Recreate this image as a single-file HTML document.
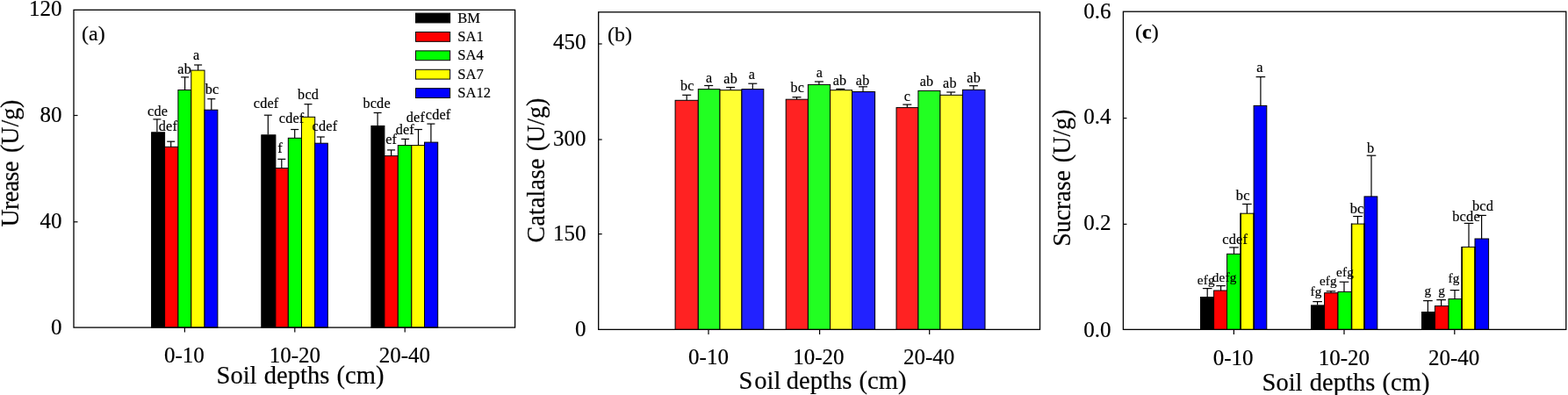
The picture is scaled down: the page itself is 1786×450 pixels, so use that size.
<!DOCTYPE html>
<html lang="en">
<head>
<meta charset="utf-8">
<title>Soil enzyme activities</title>
<style>
html, body { margin: 0; padding: 0; background: #ffffff; }
body { width: 1786px; height: 450px; overflow: hidden; }
svg { display: block; font-family: "Liberation Serif", serif; }
svg text { fill: #000; stroke: #000; stroke-width: 0.18px; }
</style>
</head>
<body>
<svg width="1786" height="450" viewBox="0 0 1786 450">
<rect x="0" y="0" width="1786" height="450" fill="#ffffff"/>
<line x1="178.90" y1="135.90" x2="178.90" y2="150.30" stroke="#000" stroke-width="1.2"/>
<line x1="174.40" y1="135.90" x2="183.40" y2="135.90" stroke="#000" stroke-width="1.2"/>
<rect x="172.60" y="150.80" width="15.00" height="222.30" fill="#000000" stroke="#000" stroke-width="1"/>
<line x1="194.70" y1="161.20" x2="194.70" y2="167.30" stroke="#000" stroke-width="1.2"/>
<line x1="190.20" y1="161.20" x2="199.20" y2="161.20" stroke="#000" stroke-width="1.2"/>
<rect x="187.60" y="167.30" width="15.30" height="205.80" fill="#ff0000" stroke="#000" stroke-width="1"/>
<line x1="210.60" y1="87.90" x2="210.60" y2="102.50" stroke="#000" stroke-width="1.2"/>
<line x1="206.10" y1="87.90" x2="215.10" y2="87.90" stroke="#000" stroke-width="1.2"/>
<rect x="202.90" y="102.50" width="14.90" height="270.60" fill="#00ff00" stroke="#000" stroke-width="1"/>
<line x1="225.60" y1="74.00" x2="225.60" y2="80.10" stroke="#000" stroke-width="1.2"/>
<line x1="221.10" y1="74.00" x2="230.10" y2="74.00" stroke="#000" stroke-width="1.2"/>
<rect x="217.80" y="80.10" width="15.20" height="293.00" fill="#ffff00" stroke="#000" stroke-width="1"/>
<line x1="240.80" y1="112.70" x2="240.80" y2="125.20" stroke="#000" stroke-width="1.2"/>
<line x1="236.30" y1="112.70" x2="245.30" y2="112.70" stroke="#000" stroke-width="1.2"/>
<rect x="233.00" y="125.20" width="14.90" height="247.90" fill="#0000ff" stroke="#000" stroke-width="1"/>
<line x1="305.30" y1="131.20" x2="305.30" y2="153.30" stroke="#000" stroke-width="1.2"/>
<line x1="300.80" y1="131.20" x2="309.80" y2="131.20" stroke="#000" stroke-width="1.2"/>
<rect x="297.80" y="153.80" width="16.10" height="219.30" fill="#000000" stroke="#000" stroke-width="1"/>
<line x1="320.80" y1="181.30" x2="320.80" y2="191.50" stroke="#000" stroke-width="1.2"/>
<line x1="316.30" y1="181.30" x2="325.30" y2="181.30" stroke="#000" stroke-width="1.2"/>
<rect x="313.90" y="191.50" width="14.40" height="181.60" fill="#ff0000" stroke="#000" stroke-width="1"/>
<line x1="335.70" y1="147.50" x2="335.70" y2="157.30" stroke="#000" stroke-width="1.2"/>
<line x1="331.20" y1="147.50" x2="340.20" y2="147.50" stroke="#000" stroke-width="1.2"/>
<rect x="328.30" y="157.30" width="15.20" height="215.80" fill="#00ff00" stroke="#000" stroke-width="1"/>
<line x1="351.00" y1="118.70" x2="351.00" y2="133.30" stroke="#000" stroke-width="1.2"/>
<line x1="346.50" y1="118.70" x2="355.50" y2="118.70" stroke="#000" stroke-width="1.2"/>
<rect x="343.50" y="133.30" width="15.20" height="239.80" fill="#ffff00" stroke="#000" stroke-width="1"/>
<line x1="365.30" y1="156.00" x2="365.30" y2="163.20" stroke="#000" stroke-width="1.2"/>
<line x1="360.80" y1="156.00" x2="369.80" y2="156.00" stroke="#000" stroke-width="1.2"/>
<rect x="358.70" y="163.20" width="14.60" height="209.90" fill="#0000ff" stroke="#000" stroke-width="1"/>
<line x1="430.10" y1="128.50" x2="430.10" y2="142.90" stroke="#000" stroke-width="1.2"/>
<line x1="425.60" y1="128.50" x2="434.60" y2="128.50" stroke="#000" stroke-width="1.2"/>
<rect x="422.90" y="143.40" width="15.00" height="229.70" fill="#000000" stroke="#000" stroke-width="1"/>
<line x1="445.60" y1="170.90" x2="445.60" y2="177.60" stroke="#000" stroke-width="1.2"/>
<line x1="441.10" y1="170.90" x2="450.10" y2="170.90" stroke="#000" stroke-width="1.2"/>
<rect x="437.90" y="177.60" width="15.40" height="195.50" fill="#ff0000" stroke="#000" stroke-width="1"/>
<line x1="461.60" y1="158.40" x2="461.60" y2="165.60" stroke="#000" stroke-width="1.2"/>
<line x1="457.10" y1="158.40" x2="466.10" y2="158.40" stroke="#000" stroke-width="1.2"/>
<rect x="453.30" y="165.60" width="15.50" height="207.50" fill="#00ff00" stroke="#000" stroke-width="1"/>
<line x1="476.50" y1="147.50" x2="476.50" y2="165.60" stroke="#000" stroke-width="1.2"/>
<line x1="472.00" y1="147.50" x2="481.00" y2="147.50" stroke="#000" stroke-width="1.2"/>
<rect x="468.80" y="165.60" width="14.70" height="207.50" fill="#ffff00" stroke="#000" stroke-width="1"/>
<line x1="490.90" y1="141.10" x2="490.90" y2="162.10" stroke="#000" stroke-width="1.2"/>
<line x1="486.40" y1="141.10" x2="495.40" y2="141.10" stroke="#000" stroke-width="1.2"/>
<rect x="483.50" y="162.10" width="15.20" height="211.00" fill="#0000ff" stroke="#000" stroke-width="1"/>
<text x="179.60" y="131.80" font-size="16.2" text-anchor="middle" letter-spacing="0.2">cde</text>
<text x="191.40" y="148.70" font-size="16.2" text-anchor="middle" letter-spacing="0.2">def</text>
<text x="210.10" y="83.50" font-size="16.2" text-anchor="middle" letter-spacing="0.2">ab</text>
<text x="223.70" y="67.50" font-size="16.2" text-anchor="middle" letter-spacing="0.2">a</text>
<text x="241.60" y="106.50" font-size="16.2" text-anchor="middle" letter-spacing="0.2">bc</text>
<text x="303.10" y="123.00" font-size="16.2" text-anchor="middle" letter-spacing="0.2">cdef</text>
<text x="319.10" y="174.20" font-size="16.2" text-anchor="middle" letter-spacing="0.2">f</text>
<text x="332.10" y="140.30" font-size="16.2" text-anchor="middle" letter-spacing="0.2">cdef</text>
<text x="351.10" y="112.80" font-size="16.2" text-anchor="middle" letter-spacing="0.2">bcd</text>
<text x="369.90" y="149.40" font-size="16.2" text-anchor="middle" letter-spacing="0.2">cdef</text>
<text x="429.10" y="123.00" font-size="16.2" text-anchor="middle" letter-spacing="0.2">bcde</text>
<text x="445.70" y="163.80" font-size="16.2" text-anchor="middle" letter-spacing="0.2">ef</text>
<text x="461.30" y="153.20" font-size="16.2" text-anchor="middle" letter-spacing="0.2">def</text>
<text x="473.40" y="139.20" font-size="16.2" text-anchor="middle" letter-spacing="0.2">def</text>
<text x="499.10" y="135.50" font-size="16.2" text-anchor="middle" letter-spacing="0.2">cdef</text>
<rect x="84.00" y="11.30" width="502.60" height="361.80" fill="none" stroke="#000" stroke-width="1.3"/>
<text x="70.50" y="17.50" font-size="25" text-anchor="end" >120</text>
<line x1="84.00" y1="131.50" x2="88.50" y2="131.50" stroke="#000" stroke-width="1.2"/>
<text x="70.50" y="139.10" font-size="25" text-anchor="end" >80</text>
<line x1="84.00" y1="252.80" x2="88.50" y2="252.80" stroke="#000" stroke-width="1.2"/>
<text x="70.50" y="260.00" font-size="25" text-anchor="end" >40</text>
<text x="70.50" y="380.70" font-size="25" text-anchor="end" >0</text>
<line x1="210.40" y1="373.10" x2="210.40" y2="378.60" stroke="#000" stroke-width="1.2"/>
<text x="209.90" y="412.60" font-size="25" text-anchor="middle" >0-10</text>
<line x1="335.80" y1="373.10" x2="335.80" y2="378.60" stroke="#000" stroke-width="1.2"/>
<text x="335.80" y="412.60" font-size="25" text-anchor="middle" >10-20</text>
<line x1="461.20" y1="373.10" x2="461.20" y2="378.60" stroke="#000" stroke-width="1.2"/>
<text x="460.80" y="412.60" font-size="25" text-anchor="middle" >20-40</text>
<text x="342.00" y="437.00" font-size="28.5" text-anchor="middle" word-spacing="1.2">Soil depths (cm)</text>
<text transform="translate(20.50,258.60) rotate(-90) scale(0.94,1)" font-size="29.7" text-anchor="start" letter-spacing="-0.55">Urease</text>
<text transform="translate(20.50,113.60) rotate(-90) scale(0.94,1)" font-size="29.7" text-anchor="end" letter-spacing="0">(U/g)</text>

<text x="93.00" y="46.20" font-size="24" text-anchor="start" >(a)</text>
<rect x="473.50" y="15.10" width="39.10" height="10.80" fill="#000000" stroke="#000" stroke-width="1"/>
<text x="521.30" y="25.60" font-size="16.5" text-anchor="start" >BM</text>
<rect x="473.50" y="36.50" width="39.10" height="10.80" fill="#ff0000" stroke="#000" stroke-width="1"/>
<text x="521.30" y="47.00" font-size="16.5" text-anchor="start" >SA1</text>
<rect x="473.50" y="57.90" width="39.10" height="10.80" fill="#00ff00" stroke="#000" stroke-width="1"/>
<text x="521.30" y="68.40" font-size="16.5" text-anchor="start" >SA4</text>
<rect x="473.50" y="79.30" width="39.10" height="10.80" fill="#ffff00" stroke="#000" stroke-width="1"/>
<text x="521.30" y="89.80" font-size="16.5" text-anchor="start" >SA7</text>
<rect x="473.50" y="100.70" width="39.10" height="10.80" fill="#0000ff" stroke="#000" stroke-width="1"/>
<text x="521.30" y="111.20" font-size="16.5" text-anchor="start" >SA12</text>
<line x1="782.20" y1="108.30" x2="782.20" y2="114.30" stroke="#000" stroke-width="1.2"/>
<line x1="777.20" y1="108.30" x2="787.20" y2="108.30" stroke="#000" stroke-width="1.2"/>
<rect x="769.10" y="114.30" width="26.20" height="261.10" fill="#ff2222" stroke="#000" stroke-width="1"/>
<line x1="807.20" y1="97.50" x2="807.20" y2="101.60" stroke="#000" stroke-width="1.2"/>
<line x1="802.20" y1="97.50" x2="812.20" y2="97.50" stroke="#000" stroke-width="1.2"/>
<rect x="795.30" y="101.60" width="24.70" height="273.80" fill="#22ff22" stroke="#000" stroke-width="1"/>
<line x1="832.10" y1="99.50" x2="832.10" y2="102.70" stroke="#000" stroke-width="1.2"/>
<line x1="827.10" y1="99.50" x2="837.10" y2="99.50" stroke="#000" stroke-width="1.2"/>
<rect x="820.00" y="102.70" width="24.90" height="272.70" fill="#ffff33" stroke="#000" stroke-width="1"/>
<line x1="857.30" y1="95.20" x2="857.30" y2="101.60" stroke="#000" stroke-width="1.2"/>
<line x1="852.30" y1="95.20" x2="862.30" y2="95.20" stroke="#000" stroke-width="1.2"/>
<rect x="844.90" y="101.60" width="24.90" height="273.80" fill="#2222ff" stroke="#000" stroke-width="1"/>
<line x1="907.50" y1="110.70" x2="907.50" y2="113.20" stroke="#000" stroke-width="1.2"/>
<line x1="902.50" y1="110.70" x2="912.50" y2="110.70" stroke="#000" stroke-width="1.2"/>
<rect x="895.20" y="113.20" width="25.20" height="262.20" fill="#ff2222" stroke="#000" stroke-width="1"/>
<line x1="932.90" y1="93.00" x2="932.90" y2="96.40" stroke="#000" stroke-width="1.2"/>
<line x1="927.90" y1="93.00" x2="937.90" y2="93.00" stroke="#000" stroke-width="1.2"/>
<rect x="920.40" y="96.40" width="25.20" height="279.00" fill="#22ff22" stroke="#000" stroke-width="1"/>
<line x1="957.30" y1="101.40" x2="957.30" y2="102.70" stroke="#000" stroke-width="1.2"/>
<line x1="952.30" y1="101.40" x2="962.30" y2="101.40" stroke="#000" stroke-width="1.2"/>
<rect x="945.60" y="102.70" width="24.90" height="272.70" fill="#ffff33" stroke="#000" stroke-width="1"/>
<line x1="983.00" y1="98.80" x2="983.00" y2="104.50" stroke="#000" stroke-width="1.2"/>
<line x1="978.00" y1="98.80" x2="988.00" y2="98.80" stroke="#000" stroke-width="1.2"/>
<rect x="970.50" y="104.50" width="26.10" height="270.90" fill="#2222ff" stroke="#000" stroke-width="1"/>
<line x1="1033.30" y1="119.10" x2="1033.30" y2="122.60" stroke="#000" stroke-width="1.2"/>
<line x1="1028.30" y1="119.10" x2="1038.30" y2="119.10" stroke="#000" stroke-width="1.2"/>
<rect x="1021.00" y="122.60" width="24.90" height="252.80" fill="#ff2222" stroke="#000" stroke-width="1"/>
<rect x="1045.90" y="103.40" width="25.00" height="272.00" fill="#22ff22" stroke="#000" stroke-width="1"/>
<line x1="1083.20" y1="105.00" x2="1083.20" y2="108.30" stroke="#000" stroke-width="1.2"/>
<line x1="1078.20" y1="105.00" x2="1088.20" y2="105.00" stroke="#000" stroke-width="1.2"/>
<rect x="1070.90" y="108.30" width="25.50" height="267.10" fill="#ffff33" stroke="#000" stroke-width="1"/>
<line x1="1108.90" y1="97.70" x2="1108.90" y2="102.30" stroke="#000" stroke-width="1.2"/>
<line x1="1103.90" y1="97.70" x2="1113.90" y2="97.70" stroke="#000" stroke-width="1.2"/>
<rect x="1096.40" y="102.30" width="25.60" height="273.10" fill="#2222ff" stroke="#000" stroke-width="1"/>
<text x="782.80" y="103.00" font-size="16.1" text-anchor="middle" letter-spacing="0.2">bc</text>
<text x="807.60" y="93.60" font-size="16.1" text-anchor="middle" letter-spacing="0.2">a</text>
<text x="832.10" y="94.90" font-size="16.1" text-anchor="middle" letter-spacing="0.2">ab</text>
<text x="856.30" y="89.90" font-size="16.1" text-anchor="middle" letter-spacing="0.2">a</text>
<text x="908.40" y="104.50" font-size="16.1" text-anchor="middle" letter-spacing="0.2">bc</text>
<text x="933.30" y="87.80" font-size="16.1" text-anchor="middle" letter-spacing="0.2">a</text>
<text x="956.50" y="97.30" font-size="16.1" text-anchor="middle" letter-spacing="0.2">ab</text>
<text x="982.60" y="97.30" font-size="16.1" text-anchor="middle" letter-spacing="0.2">ab</text>
<text x="1033.40" y="114.60" font-size="16.1" text-anchor="middle" letter-spacing="0.2">c</text>
<text x="1055.50" y="98.00" font-size="16.1" text-anchor="middle" letter-spacing="0.2">ab</text>
<text x="1081.90" y="100.40" font-size="16.1" text-anchor="middle" letter-spacing="0.2">ab</text>
<text x="1109.10" y="93.50" font-size="16.1" text-anchor="middle" letter-spacing="0.2">ab</text>
<rect x="681.70" y="13.80" width="502.80" height="361.60" fill="none" stroke="#000" stroke-width="1.3"/>
<line x1="681.70" y1="50.00" x2="685.70" y2="50.00" stroke="#000" stroke-width="1.2"/>
<text x="667.50" y="56.40" font-size="25" text-anchor="end" >450</text>
<line x1="681.70" y1="159.00" x2="685.70" y2="159.00" stroke="#000" stroke-width="1.2"/>
<text x="667.50" y="165.50" font-size="25" text-anchor="end" >300</text>
<line x1="681.70" y1="266.60" x2="685.70" y2="266.60" stroke="#000" stroke-width="1.2"/>
<text x="667.50" y="274.20" font-size="25" text-anchor="end" >150</text>
<text x="667.50" y="382.60" font-size="25" text-anchor="end" >0</text>
<line x1="807.00" y1="375.40" x2="807.00" y2="380.90" stroke="#000" stroke-width="1.2"/>
<text x="807.00" y="414.80" font-size="25" text-anchor="middle" >0-10</text>
<line x1="933.60" y1="375.40" x2="933.60" y2="380.90" stroke="#000" stroke-width="1.2"/>
<text x="932.40" y="414.80" font-size="25" text-anchor="middle" >10-20</text>
<line x1="1058.70" y1="375.40" x2="1058.70" y2="380.90" stroke="#000" stroke-width="1.2"/>
<text x="1058.20" y="414.80" font-size="25" text-anchor="middle" >20-40</text>
<text x="937.00" y="442.60" font-size="28.5" text-anchor="middle" word-spacing="1.2">S<tspan dx="1.8">oil</tspan><tspan dx="-1.8"> depths (cm)</tspan></text>
<text transform="translate(620.20,276.40) rotate(-90) scale(0.94,1)" font-size="29.7" text-anchor="start" letter-spacing="0.2">Catalase</text>
<text transform="translate(620.20,111.70) rotate(-90) scale(0.94,1)" font-size="29.7" text-anchor="end" letter-spacing="0">(U/g)</text>

<text x="692.00" y="47.40" font-size="24" text-anchor="start" >(b)</text>
<line x1="1375.20" y1="328.60" x2="1375.20" y2="338.00" stroke="#000" stroke-width="1.2"/>
<line x1="1369.90" y1="328.60" x2="1380.50" y2="328.60" stroke="#000" stroke-width="1.2"/>
<rect x="1367.50" y="338.50" width="15.10" height="36.90" fill="#000000" stroke="#000" stroke-width="1"/>
<line x1="1390.60" y1="325.60" x2="1390.60" y2="331.00" stroke="#000" stroke-width="1.2"/>
<line x1="1385.30" y1="325.60" x2="1395.90" y2="325.60" stroke="#000" stroke-width="1.2"/>
<rect x="1382.60" y="331.00" width="15.00" height="44.40" fill="#ff0000" stroke="#000" stroke-width="1"/>
<line x1="1405.50" y1="281.90" x2="1405.50" y2="289.30" stroke="#000" stroke-width="1.2"/>
<line x1="1400.20" y1="281.90" x2="1410.80" y2="281.90" stroke="#000" stroke-width="1.2"/>
<rect x="1397.60" y="289.30" width="15.40" height="86.10" fill="#00ff00" stroke="#000" stroke-width="1"/>
<line x1="1420.40" y1="232.50" x2="1420.40" y2="243.20" stroke="#000" stroke-width="1.2"/>
<line x1="1415.10" y1="232.50" x2="1425.70" y2="232.50" stroke="#000" stroke-width="1.2"/>
<rect x="1413.00" y="243.20" width="15.10" height="132.20" fill="#ffff00" stroke="#000" stroke-width="1"/>
<line x1="1435.90" y1="87.60" x2="1435.90" y2="120.40" stroke="#000" stroke-width="1.2"/>
<line x1="1430.60" y1="87.60" x2="1441.20" y2="87.60" stroke="#000" stroke-width="1.2"/>
<rect x="1428.10" y="120.40" width="14.70" height="255.00" fill="#0000ff" stroke="#000" stroke-width="1"/>
<line x1="1500.60" y1="343.60" x2="1500.60" y2="347.40" stroke="#000" stroke-width="1.2"/>
<line x1="1495.30" y1="343.60" x2="1505.90" y2="343.60" stroke="#000" stroke-width="1.2"/>
<rect x="1493.50" y="347.90" width="15.10" height="27.50" fill="#000000" stroke="#000" stroke-width="1"/>
<line x1="1516.00" y1="331.80" x2="1516.00" y2="333.70" stroke="#000" stroke-width="1.2"/>
<line x1="1510.70" y1="331.80" x2="1521.30" y2="331.80" stroke="#000" stroke-width="1.2"/>
<rect x="1508.60" y="333.70" width="15.40" height="41.70" fill="#ff0000" stroke="#000" stroke-width="1"/>
<line x1="1531.00" y1="321.20" x2="1531.00" y2="332.40" stroke="#000" stroke-width="1.2"/>
<line x1="1525.70" y1="321.20" x2="1536.30" y2="321.20" stroke="#000" stroke-width="1.2"/>
<rect x="1524.00" y="332.40" width="15.40" height="43.00" fill="#00ff00" stroke="#000" stroke-width="1"/>
<line x1="1546.50" y1="246.50" x2="1546.50" y2="255.10" stroke="#000" stroke-width="1.2"/>
<line x1="1541.20" y1="246.50" x2="1551.80" y2="246.50" stroke="#000" stroke-width="1.2"/>
<rect x="1539.40" y="255.10" width="14.60" height="120.30" fill="#ffff00" stroke="#000" stroke-width="1"/>
<line x1="1562.00" y1="177.20" x2="1562.00" y2="223.90" stroke="#000" stroke-width="1.2"/>
<line x1="1556.70" y1="177.20" x2="1567.30" y2="177.20" stroke="#000" stroke-width="1.2"/>
<rect x="1554.00" y="223.90" width="14.80" height="151.50" fill="#0000ff" stroke="#000" stroke-width="1"/>
<line x1="1626.40" y1="342.60" x2="1626.40" y2="355.00" stroke="#000" stroke-width="1.2"/>
<line x1="1621.10" y1="342.60" x2="1631.70" y2="342.60" stroke="#000" stroke-width="1.2"/>
<rect x="1619.50" y="355.50" width="14.90" height="19.90" fill="#000000" stroke="#000" stroke-width="1"/>
<line x1="1641.60" y1="341.60" x2="1641.60" y2="348.60" stroke="#000" stroke-width="1.2"/>
<line x1="1636.30" y1="341.60" x2="1646.90" y2="341.60" stroke="#000" stroke-width="1.2"/>
<rect x="1634.40" y="348.60" width="15.60" height="26.80" fill="#ff0000" stroke="#000" stroke-width="1"/>
<line x1="1657.00" y1="330.60" x2="1657.00" y2="340.60" stroke="#000" stroke-width="1.2"/>
<line x1="1651.70" y1="330.60" x2="1662.30" y2="330.60" stroke="#000" stroke-width="1.2"/>
<rect x="1650.00" y="340.60" width="15.00" height="34.80" fill="#00ff00" stroke="#000" stroke-width="1"/>
<line x1="1673.00" y1="254.40" x2="1673.00" y2="281.40" stroke="#000" stroke-width="1.2"/>
<line x1="1667.70" y1="254.40" x2="1678.30" y2="254.40" stroke="#000" stroke-width="1.2"/>
<rect x="1665.00" y="281.40" width="15.00" height="94.00" fill="#ffff00" stroke="#000" stroke-width="1"/>
<line x1="1687.60" y1="245.40" x2="1687.60" y2="272.00" stroke="#000" stroke-width="1.2"/>
<line x1="1682.30" y1="245.40" x2="1692.90" y2="245.40" stroke="#000" stroke-width="1.2"/>
<rect x="1680.00" y="272.00" width="15.60" height="103.40" fill="#0000ff" stroke="#000" stroke-width="1"/>
<line x1="1413.20" y1="242.70" x2="1413.20" y2="375.40" stroke="#000" stroke-width="1.4"/>
<line x1="1428.30" y1="242.70" x2="1428.30" y2="375.40" stroke="#000" stroke-width="1.4"/>
<line x1="1539.60" y1="254.60" x2="1539.60" y2="375.40" stroke="#000" stroke-width="1.4"/>
<line x1="1554.20" y1="254.60" x2="1554.20" y2="375.40" stroke="#000" stroke-width="1.4"/>
<line x1="1665.20" y1="280.90" x2="1665.20" y2="375.40" stroke="#000" stroke-width="1.4"/>
<line x1="1680.20" y1="280.90" x2="1680.20" y2="375.40" stroke="#000" stroke-width="1.4"/>
<text x="1373.70" y="324.40" font-size="15.2" text-anchor="middle" letter-spacing="0.2">efg</text>
<text x="1394.70" y="320.80" font-size="15.2" text-anchor="middle" letter-spacing="0.2">defg</text>
<text x="1406.70" y="277.60" font-size="16.4" text-anchor="middle" letter-spacing="0.2">cdef</text>
<text x="1415.80" y="227.60" font-size="16.4" text-anchor="middle" letter-spacing="0.2">bc</text>
<text x="1434.90" y="82.00" font-size="16.4" text-anchor="middle" letter-spacing="0.2">a</text>
<text x="1499.10" y="336.90" font-size="15.2" text-anchor="middle" letter-spacing="0.2">fg</text>
<text x="1512.90" y="325.20" font-size="15.2" text-anchor="middle" letter-spacing="0.2">efg</text>
<text x="1532.10" y="315.00" font-size="15.2" text-anchor="middle" letter-spacing="0.2">efg</text>
<text x="1545.60" y="243.30" font-size="16.4" text-anchor="middle" letter-spacing="0.2">bc</text>
<text x="1561.30" y="174.00" font-size="16.4" text-anchor="middle" letter-spacing="0.2">b</text>
<text x="1626.50" y="335.60" font-size="15.2" text-anchor="middle" letter-spacing="0.2">g</text>
<text x="1642.10" y="335.60" font-size="15.2" text-anchor="middle" letter-spacing="0.2">g</text>
<text x="1656.10" y="322.40" font-size="15.2" text-anchor="middle" letter-spacing="0.2">fg</text>
<text x="1670.10" y="252.00" font-size="16.4" text-anchor="middle" letter-spacing="0.2">bcde</text>
<text x="1689.10" y="239.60" font-size="16.4" text-anchor="middle" letter-spacing="0.2">bcd</text>
<rect x="1279.40" y="13.20" width="504.40" height="362.20" fill="none" stroke="#000" stroke-width="1.3"/>
<text x="1265.50" y="20.60" font-size="25" text-anchor="end" >0.6</text>
<line x1="1279.40" y1="134.60" x2="1283.40" y2="134.60" stroke="#000" stroke-width="1.2"/>
<text x="1265.50" y="141.40" font-size="25" text-anchor="end" >0.4</text>
<line x1="1279.40" y1="255.40" x2="1283.40" y2="255.40" stroke="#000" stroke-width="1.2"/>
<text x="1265.50" y="262.40" font-size="25" text-anchor="end" >0.2</text>
<text x="1265.50" y="383.90" font-size="25" text-anchor="end" >0.0</text>
<line x1="1405.40" y1="375.40" x2="1405.40" y2="380.90" stroke="#000" stroke-width="1.2"/>
<text x="1404.60" y="415.70" font-size="25" text-anchor="middle" >0-10</text>
<line x1="1531.00" y1="375.40" x2="1531.00" y2="380.90" stroke="#000" stroke-width="1.2"/>
<text x="1530.80" y="415.70" font-size="25" text-anchor="middle" >10-20</text>
<line x1="1656.80" y1="375.40" x2="1656.80" y2="380.90" stroke="#000" stroke-width="1.2"/>
<text x="1656.10" y="415.70" font-size="25" text-anchor="middle" >20-40</text>
<text x="1533.00" y="444.50" font-size="28.5" text-anchor="middle" word-spacing="1.2">Soil depths (cm)</text>
<text transform="translate(1218.80,280.80) rotate(-90) scale(0.94,1)" font-size="29.7" text-anchor="start" letter-spacing="0">Sucrase</text>
<text transform="translate(1218.80,124.70) rotate(-90) scale(0.94,1)" font-size="29.7" text-anchor="end" letter-spacing="0">(U/g)</text>

<text x="1293.00" y="43.60" font-size="24" text-anchor="start">(<tspan font-weight="bold">c</tspan>)</text>
</svg>
</body>
</html>
